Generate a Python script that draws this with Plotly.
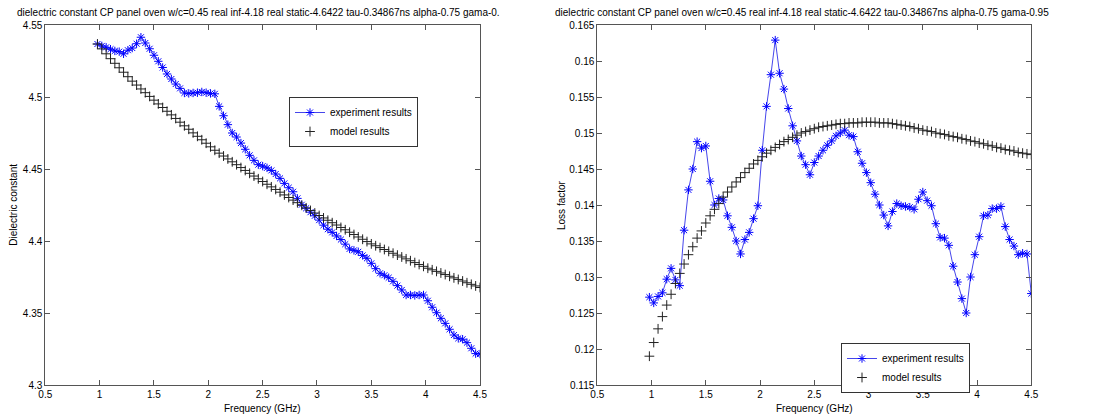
import plotly.graph_objects as go
from plotly.subplots import make_subplots

# frequency grid (GHz)
freq = [0.98, 1.02, 1.06, 1.10, 1.14, 1.18, 1.22, 1.26, 1.30, 1.34,
        1.38, 1.42, 1.46, 1.50, 1.54, 1.58, 1.62, 1.66, 1.70, 1.74,
        1.78, 1.82, 1.86, 1.90, 1.94, 1.98, 2.02, 2.06, 2.10, 2.14,
        2.18, 2.22, 2.26, 2.30, 2.34, 2.38, 2.42, 2.46, 2.50, 2.54,
        2.58, 2.62, 2.66, 2.70, 2.74, 2.78, 2.82, 2.86, 2.90, 2.94,
        2.98, 3.02, 3.06, 3.10, 3.14, 3.18, 3.22, 3.26, 3.30, 3.34,
        3.38, 3.42, 3.46, 3.50, 3.54, 3.58, 3.62, 3.66, 3.70, 3.74,
        3.78, 3.82, 3.86, 3.90, 3.94, 3.98, 4.02, 4.06, 4.10, 4.14,
        4.18, 4.22, 4.26, 4.30, 4.34, 4.38, 4.42, 4.46, 4.50]

# dielectric constant, measured
eps_exp = [4.5368, 4.5355, 4.5345, 4.5332, 4.5320, 4.5315, 4.5300, 4.5325, 4.5340, 4.5370,
           4.5415, 4.5375, 4.5335, 4.5290, 4.5248, 4.5205, 4.5160, 4.5125, 4.5090, 4.5060,
           4.5028, 4.5025, 4.5028, 4.5030, 4.5035, 4.5030, 4.5025, 4.5022, 4.4935, 4.4870,
           4.4808, 4.4750, 4.4722, 4.4680, 4.4637, 4.4595, 4.4560, 4.4530, 4.4520, 4.4508,
           4.4490, 4.4465, 4.4435, 4.4400, 4.4370, 4.4342, 4.4296, 4.4252, 4.4227, 4.4200,
           4.4175, 4.4145, 4.4110, 4.4082, 4.4060, 4.4035, 4.4010, 4.3978, 4.3945, 4.3935,
           4.3925, 4.3900, 4.3880, 4.3845, 4.3808, 4.3776, 4.3762, 4.3745, 4.3720, 4.3690,
           4.3660, 4.3625, 4.3625, 4.3622, 4.3625, 4.3625, 4.3585, 4.3540, 4.3502, 4.3463,
           4.3428, 4.3387, 4.3347, 4.3324, 4.3318, 4.3294, 4.3255, 4.3218, 4.3215]

# dielectric constant, model
eps_model = [4.5368, 4.5334, 4.5300, 4.5266, 4.5234, 4.5203, 4.5172, 4.5141, 4.5110, 4.5083,
             4.5056, 4.5030, 4.5004, 4.4978, 4.4952, 4.4927, 4.4901, 4.4876, 4.4851, 4.4825,
             4.4800, 4.4776, 4.4751, 4.4727, 4.4703, 4.4679, 4.4654, 4.4630, 4.4610, 4.4590,
             4.4570, 4.4550, 4.4530, 4.4510, 4.4490, 4.4470, 4.4451, 4.4432, 4.4413, 4.4394,
             4.4376, 4.4358, 4.4339, 4.4320, 4.4302, 4.4284, 4.4266, 4.4248, 4.4230, 4.4212,
             4.4194, 4.4177, 4.4160, 4.4144, 4.4127, 4.4111, 4.4094, 4.4078, 4.4061, 4.4045,
             4.4028, 4.4012, 4.3996, 4.3980, 4.3967, 4.3954, 4.3941, 4.3928, 4.3915, 4.3902,
             4.3889, 4.3876, 4.3863, 4.3850, 4.3837, 4.3824, 4.3811, 4.3800, 4.3789, 4.3778,
             4.3767, 4.3755, 4.3744, 4.3733, 4.3722, 4.3710, 4.3699, 4.3688, 4.3677]

# loss factor, measured
loss_exp = [0.1272, 0.1264, 0.1273, 0.1278, 0.1297, 0.1312, 0.1296, 0.1288, 0.1365, 0.1421,
            0.1450, 0.1488, 0.1479, 0.1482, 0.1433, 0.1400, 0.1409, 0.1407, 0.1385, 0.1369,
            0.1350, 0.1332, 0.1352, 0.1362, 0.1381, 0.1399, 0.1476, 0.1537, 0.1581, 0.1629,
            0.1583, 0.1561, 0.1534, 0.1510, 0.1489, 0.1468, 0.1456, 0.1442, 0.1459, 0.1468,
            0.1476, 0.1483, 0.1489, 0.1496, 0.1500, 0.1504, 0.1497, 0.1495, 0.1474, 0.1458,
            0.1445, 0.1431, 0.1415, 0.1400, 0.1386, 0.1371, 0.1391, 0.1402, 0.1399, 0.1398,
            0.1397, 0.1394, 0.1408, 0.1418, 0.1406, 0.1399, 0.1374, 0.1355, 0.1354, 0.1344,
            0.1315, 0.1293, 0.1270, 0.1250, 0.1300, 0.1331, 0.1356, 0.1385, 0.1386, 0.1395,
            0.1395, 0.1398, 0.1370, 0.1352, 0.1343, 0.1331, 0.1333, 0.1332, 0.1277]

# loss factor, model
loss_model = [0.1190, 0.1209, 0.1228, 0.1245, 0.1261, 0.1276, 0.1291, 0.1305, 0.1318, 0.1331,
              0.1342, 0.1354, 0.1364, 0.1375, 0.1385, 0.1394, 0.1402, 0.1411, 0.1418, 0.1425,
              0.1432, 0.1438, 0.1445, 0.1451, 0.1457, 0.1462, 0.1467, 0.1472, 0.1476, 0.1480,
              0.1484, 0.1488, 0.1491, 0.1494, 0.1497, 0.1500, 0.1502, 0.1504, 0.1506, 0.1508,
              0.1509, 0.1510, 0.1511, 0.1512, 0.1513, 0.1513, 0.1514, 0.1514, 0.1514, 0.1515,
              0.1515, 0.1515, 0.1515, 0.1514, 0.1514, 0.1514, 0.1513, 0.1512, 0.1511, 0.1510,
              0.1509, 0.1507, 0.1506, 0.1504, 0.1503, 0.1502, 0.1500, 0.1499, 0.1498, 0.1496,
              0.1495, 0.1494, 0.1492, 0.1491, 0.1489, 0.1488, 0.1486, 0.1485, 0.1483, 0.1482,
              0.1480, 0.1479, 0.1477, 0.1476, 0.1475, 0.1473, 0.1472, 0.1471, 0.1470]

x_ticks = [0.5, 1, 1.5, 2, 2.5, 3, 3.5, 4, 4.5]
eps_ticks = [4.3, 4.35, 4.4, 4.45, 4.5, 4.55]
loss_ticks = [0.115, 0.12, 0.125, 0.13, 0.135, 0.14, 0.145, 0.15, 0.155, 0.16, 0.165]

title_left = ('dielectric constant CP panel oven w/c=0.45 real inf-4.18 real static-4.6422 '
              'tau-0.34867ns alpha-0.75 gama-0.')
title_right = ('dielectric constant CP panel oven w/c=0.45 real inf-4.18 real static-4.6422 '
               'tau-0.34867ns alpha-0.75 gama-0.95')

FONT = 'Liberation Sans, Arial, sans-serif'
# the page body adds an 8px margin, so the figure is drawn 8px smaller
OFF = 8
W, H = 1098 - OFF, 420 - OFF
BLUE = '#0000ff'
DARK = '#222222'
AXIS = '#555555'


def px(x):
    return (x - OFF) / W


def py(y):
    return 1 - (y - OFF) / H


fig = make_subplots(rows=1, cols=2)

exp_style = dict(mode='lines+markers', name='experiment results',
                 line=dict(color='rgb(70,70,235)', width=1),
                 marker=dict(symbol='asterisk-open', size=7, color=BLUE,
                             line=dict(color=BLUE, width=1)))
model_style = dict(mode='markers', name='model results',
                   marker=dict(symbol='cross-thin-open', size=7, color=DARK,
                               line=dict(color=DARK, width=1)))

fig.add_trace(go.Scatter(x=freq, y=eps_exp, legend='legend', **exp_style), row=1, col=1)
fig.add_trace(go.Scatter(x=freq, y=eps_model, legend='legend', **model_style), row=1, col=1)
fig.add_trace(go.Scatter(x=freq, y=loss_exp, legend='legend2', **exp_style), row=1, col=2)
fig.add_trace(go.Scatter(x=freq, y=loss_model, legend='legend2', **model_style), row=1, col=2)

axis_style = dict(showline=True, linecolor=AXIS, linewidth=1, mirror='ticks',
                  ticks='inside', ticklen=5, tickcolor=AXIS, showgrid=False,
                  zeroline=False, automargin=False, tickfont=dict(size=10, color='black'))

fig.update_xaxes(range=[0.5, 4.5], tickvals=x_ticks, ticktext=[f'{v:g}' for v in x_ticks],
                 **axis_style)
fig.update_xaxes(domain=[px(45.3), px(480)], row=1, col=1)
fig.update_xaxes(domain=[px(597.3), px(1031.3)], row=1, col=2)
fig.update_yaxes(domain=[py(385), py(25)], **axis_style)
fig.update_yaxes(range=[4.3, 4.55], tickvals=eps_ticks,
                 ticktext=[f'{v:g}' for v in eps_ticks], row=1, col=1)
fig.update_yaxes(range=[0.115, 0.165], tickvals=loss_ticks,
                 ticktext=[f'{v:g}' for v in loss_ticks], row=1, col=2)

legend_style = dict(bgcolor='white', bordercolor='#333333', borderwidth=1,
                    font=dict(size=10, color='black'), xanchor='left', yanchor='top',
                    tracegroupgap=0, itemwidth=30)

fig.update_layout(
    width=W, height=H,
    margin=dict(l=0, r=0, t=0, b=0),
    paper_bgcolor='white', plot_bgcolor='white',
    font=dict(family=FONT, size=10, color='black'),
    legend=dict(x=px(289), y=py(97), **legend_style),
    legend2=dict(x=px(841), y=py(343), **legend_style),
)

# titles and axis labels
notes = [
    dict(text=title_left, x=px(15), y=py(13), xanchor='left'),
    dict(text=title_right, x=px(553), y=py(13), xanchor='left'),
    dict(text='Frequency (GHz)', x=px(262.7), y=py(408), xanchor='center'),
    dict(text='Frequency (GHz)', x=px(814.3), y=py(408), xanchor='center'),
    dict(text='Dielectric constant', x=px(12.7), y=py(205), xanchor='center', textangle=-90),
    dict(text='Loss factor', x=px(561), y=py(205), xanchor='center', textangle=-90),
]
for n in notes:
    fig.add_annotation(xref='paper', yref='paper', yanchor='middle', showarrow=False,
                       font=dict(size=10, color='black'), **n)

fig.write_html("out.html")
